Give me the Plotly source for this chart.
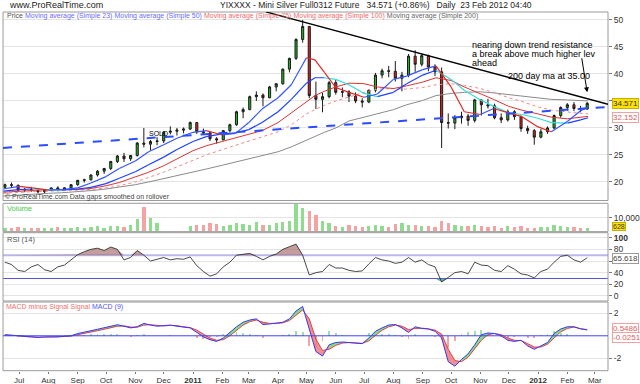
import plotly.graph_objects as go
import pandas as pd

W, H = 640, 384
def px(x): return x / W
def py(y): return 1 - y / H

FONT = "Liberation Sans, Arial, sans-serif"

# ---------------- data (weekly candles) ----------------
week_start = "2010-06-16"
week_open = [19.0, 19.5, 19.4, 18.5, 18.6, 18.4, 18.2, 18.5, 18.9, 18.7,
             18.9, 19.5, 20.3, 20.4, 21.3, 22.0, 22.5, 23.8, 24.8, 24.3,
             24.9, 27.2, 27.0, 27.5, 27.6, 29.2, 29.4, 29.6, 29.8, 31.0,
             29.3, 29.1, 28.0, 27.8, 29.5, 30.6, 33.0, 33.4, 35.8, 36.1,
             35.6, 37.6, 38.2, 40.9, 42.9, 46.4, 48.8, 36.0, 35.3, 35.8,
             38.4, 36.6, 36.7, 35.9, 35.0, 34.8, 37.0, 39.8, 40.6, 40.5,
             39.2, 39.8, 43.3, 41.8, 43.4, 41.3, 40.4, 31.0, 30.9, 31.9,
             32.2, 31.4, 35.2, 34.3, 34.1, 31.9, 31.5, 33.0, 32.1, 29.9,
             29.5, 28.3, 29.3, 30.0, 32.3, 33.8, 34.3, 33.6, 33.5]
week_high = [19.7, 19.9, 19.5, 18.9, 19.1, 18.8, 18.6, 19.0, 19.2, 19.0,
             19.6, 20.4, 20.6, 21.4, 22.2, 22.6, 23.9, 25.0, 25.4, 25.0,
             27.4, 30.0, 27.8, 28.3, 29.4, 30.3, 30.0, 30.1, 31.2, 31.1,
             29.9, 29.2, 28.3, 29.6, 30.8, 33.2, 33.8, 36.0, 36.8, 36.4,
             37.8, 38.3, 41.0, 43.0, 46.6, 50.0, 48.9, 38.6, 36.5, 38.7,
             38.9, 37.5, 37.0, 36.6, 35.5, 37.1, 40.2, 41.0, 41.5, 42.4,
             40.4, 43.7, 44.4, 43.8, 43.6, 41.8, 41.2, 32.7, 32.4, 33.0,
             32.6, 35.4, 35.3, 35.4, 34.5, 32.7, 33.4, 33.3, 32.3, 30.4,
             29.8, 29.8, 30.3, 32.5, 34.0, 34.6, 34.8, 34.1, 34.8]
week_low = [18.8, 18.9, 18.3, 18.1, 18.2, 17.9, 17.9, 18.4, 18.3, 18.5,
            18.8, 19.3, 19.9, 20.3, 21.0, 21.5, 22.2, 23.5, 23.7, 23.9,
            24.7, 26.4, 25.9, 26.8, 27.2, 28.8, 28.6, 29.0, 29.6, 28.9,
            28.8, 27.6, 27.1, 27.7, 29.2, 30.4, 31.8, 33.3, 35.0, 34.0,
            35.5, 36.8, 38.0, 40.3, 42.6, 45.8, 35.5, 33.5, 32.9, 35.5,
            36.2, 35.7, 34.8, 34.6, 33.8, 34.6, 36.6, 39.2, 39.4, 38.6,
            36.8, 39.4, 40.4, 41.4, 40.5, 39.6, 26.3, 29.9, 29.8, 30.8,
            30.4, 31.0, 32.3, 33.6, 31.6, 30.9, 31.2, 31.5, 29.3, 28.9,
            26.9, 28.1, 28.9, 29.8, 31.9, 33.2, 33.1, 32.9, 33.4]
week_close = [19.5, 19.4, 18.5, 18.6, 18.4, 18.2, 18.5, 18.9, 18.7, 18.9,
              19.5, 20.3, 20.4, 21.3, 22.0, 22.5, 23.8, 24.8, 24.3, 24.9,
              27.2, 27.0, 27.5, 27.6, 29.2, 29.4, 29.6, 29.8, 31.0, 29.3,
              29.1, 28.0, 27.8, 29.5, 30.6, 33.0, 33.4, 35.8, 36.1, 35.6,
              37.6, 38.2, 40.9, 42.9, 46.4, 48.8, 36.0, 35.3, 35.8, 38.4,
              36.6, 36.7, 35.9, 35.0, 34.8, 37.0, 39.8, 40.6, 40.5, 39.2,
              39.8, 43.3, 41.8, 43.4, 41.3, 40.4, 31.0, 30.9, 31.9, 32.2,
              31.4, 35.2, 34.3, 34.1, 31.9, 31.5, 33.0, 32.1, 29.9, 29.5,
              28.3, 29.3, 30.0, 32.3, 33.8, 34.3, 33.6, 33.5, 34.571]
week_volume = [3000, 2500, 3500, 2800, 2600, 3000, 2400, 2800, 3200, 2500,
               3000, 3500, 2700, 3300, 3800, 3000, 4000, 4200, 3500, 4500,
               9000, 18000, 10000, 6000, None, None, None, None, 4000, 5000,
               4500, 6000, 5500, 4000, 5000, 6500, 5500, 4500, 7000, 5000,
               4500, 6000, 7000, 8000, 20000, 17000, 15000, 12000, 8000, 6000,
               4000, 3500, 4500, 3800, 3200, 4200, 5000, 4000, 3600, 5500,
               6000, 5000, 4500, 3800, 4200, 3500, 8000, 6500, 5000, 4000,
               3800, 4500, 4000, 3500, 4200, 3000, 3800, 3500, 4000, 3000,
               2800, 3200, 3500, 4500, 4000, 3500, 3200, 3000, 2800]
rsi14 = [58, 54, 44, 42, 50, 54, 45, 42, 50, 53,
         62, 71, 76, 80, 82, 78, 84, 80, 62, 66,
         78, 70, 60, 63, 66, 62, 64, 63, 67, 52,
         42, 34, 38, 50, 58, 70, 72, 73, 68, 62,
         68, 72, 80, 84, 89, 70, 36, 40, 42, 54,
         48, 48, 44, 42, 43, 55, 66, 62, 60, 56,
         58, 66, 58, 62, 54, 50, 24, 32, 40, 42,
         38, 58, 53, 52, 44, 42, 52, 46, 38, 36,
         31, 42, 46, 58, 68, 70, 62, 58, 65.618]
macd_line = [0.1, 0.05, -0.05, -0.1, -0.15, -0.15, -0.1, -0.12, -0.1, -0.05,
             0.0, 0.2, 0.3, 0.45, 0.58, 0.7, 0.85, 0.98, 0.85, 0.7,
             0.8, 1.1, 0.95, 0.85, 0.9, 0.95, 0.85, 0.75, 0.7, 0.3,
             -0.1, -0.35, -0.5, -0.2, 0.3, 0.8, 1.2, 1.4, 1.5, 1.0,
             1.05, 1.1, 1.2, 1.5, 2.2, 2.6, 0.6, -1.4, -1.8, -0.8,
             -0.6, -0.55, -0.6, -0.65, -0.7, -0.2, 0.4, 0.7, 0.95, 1.0,
             0.7, 0.3, 0.8, 0.65, 0.6, 0.4, -0.2, -2.3, -2.7, -2.1,
             -1.6, -0.8, 0.1, 0.25, 0.2, 0.0, -0.4, -0.5, -0.4, -0.9,
             -1.2, -0.9, -0.6, 0.2, 0.6, 0.8, 0.8, 0.62, 0.52]
signal_line = [0.05, 0.05, 0.02, -0.05, -0.1, -0.12, -0.12, -0.11, -0.1, -0.08,
               -0.03, 0.1, 0.2, 0.33, 0.45, 0.58, 0.72, 0.85, 0.88, 0.78,
               0.76, 0.95, 0.98, 0.9, 0.88, 0.92, 0.9, 0.8, 0.73, 0.5,
               0.15, -0.2, -0.4, -0.35, 0.0, 0.5, 0.95, 1.25, 1.4, 1.2,
               1.1, 1.1, 1.15, 1.35, 1.8, 2.3, 1.5, -0.3, -1.3, -1.2,
               -0.85, -0.65, -0.6, -0.62, -0.67, -0.45, 0.05, 0.5, 0.8, 0.95,
               0.85, 0.55, 0.65, 0.68, 0.62, 0.5, 0.15, -1.2, -2.2, -2.3,
               -1.9, -1.2, -0.4, 0.1, 0.2, 0.1, -0.2, -0.4, -0.42, -0.7,
               -1.0, -1.0, -0.75, -0.2, 0.35, 0.65, 0.78, 0.62, 0.55]

# moving averages read as sparse points
ma_dates = ["2010-06-14", "2010-07-01", "2010-07-15", "2010-08-01", "2010-08-15",
            "2010-09-01", "2010-09-15", "2010-10-01", "2010-10-15", "2010-11-01",
            "2010-11-15", "2010-12-01", "2010-12-15", "2011-01-01", "2011-01-15",
            "2011-02-01", "2011-02-15", "2011-03-01", "2011-03-15", "2011-04-01",
            "2011-04-15", "2011-05-01", "2011-05-10", "2011-05-20", "2011-06-01",
            "2011-06-15", "2011-07-01", "2011-07-15", "2011-08-01", "2011-08-15",
            "2011-09-01", "2011-09-15", "2011-10-01", "2011-10-15", "2011-11-01",
            "2011-11-15", "2011-12-01", "2011-12-15", "2012-01-01", "2012-01-15",
            "2012-02-01", "2012-02-15", "2012-02-23"]
ma23 = [18.7, 19.2, 18.9, 18.5, 18.6, 18.9, 19.8, 21.0, 22.5, 23.9,
        25.6, 26.9, 28.1, 29.2, 29.5, 28.7, 29.0, 31.0, 33.5, 35.6,
        38.0, 43.0, 42.6, 40.3, 37.5, 36.6, 35.7, 36.3, 39.0, 39.6,
        40.8, 41.5, 37.6, 33.0, 32.5, 33.6, 32.8, 32.1, 30.2, 29.3,
        31.2, 33.2, 33.8]
ma50 = [18.3, 18.6, 18.7, 18.6, 18.5, 18.7, 19.0, 19.7, 20.7, 21.9,
        23.2, 24.6, 26.0, 27.5, 28.4, 28.9, 29.1, 29.7, 31.0, 33.0,
        35.3, 38.3, 39.3, 39.3, 39.0, 38.0, 36.4, 35.8, 36.6, 38.2,
        39.8, 40.7, 39.0, 37.0, 35.2, 34.0, 32.8, 32.5, 31.8, 31.0,
        30.9, 31.5, 31.9]
ma75 = [18.1, 18.3, 18.5, 18.6, 18.6, 18.6, 18.8, 19.3, 19.9, 20.9,
        21.8, 23.0, 24.3, 25.8, 26.7, 27.5, 28.2, 28.8, 29.5, 31.0,
        32.8, 35.0, 36.0, 36.8, 37.6, 38.3, 38.2, 37.6, 37.3, 37.8,
        38.5, 39.3, 38.8, 37.6, 36.4, 35.3, 34.0, 33.3, 32.6, 32.0,
        31.7, 32.0, 32.152]
ma100 = [17.9, 18.1, 18.2, 18.3, 18.4, 18.5, 18.6, 18.9, 19.3, 20.0,
         20.8, 21.8, 22.8, 24.0, 25.0, 26.0, 26.8, 27.6, 28.3, 29.3,
         30.6, 32.6, 33.4, 34.2, 35.0, 35.8, 36.6, 37.2, 37.3, 37.2,
         37.5, 38.0, 38.2, 37.9, 37.3, 36.6, 35.6, 34.9, 33.9, 33.3,
         32.9, 32.7, 32.6]
ma200 = [17.4, 17.6, 17.8, 17.9, 18.0, 18.2, 18.4, 18.7, 19.0, 19.5,
         20.0, 20.6, 21.2, 21.8, 22.4, 23.1, 23.7, 24.2, 24.8, 25.6,
         26.5, 27.8, 28.5, 29.2, 30.0, 31.3, 32.0, 32.6, 33.4, 34.3,
         35.1, 36.0, 36.4, 36.6, 36.7, 36.5, 36.2, 35.9, 35.5, 35.3,
         35.2, 35.1, 35.0]

month_ticks = ["2010-07-01", "2010-08-01", "2010-09-01", "2010-10-01", "2010-11-01",
               "2010-12-01", "2011-01-01", "2011-02-01", "2011-03-01", "2011-04-01",
               "2011-05-01", "2011-06-01", "2011-07-01", "2011-08-01", "2011-09-01",
               "2011-10-01", "2011-11-01", "2011-12-01", "2012-01-01", "2012-02-01",
               "2012-03-01"]
month_labels = ["Jul", "Aug", "Sep", "Oct", "Nov", "Dec", "2011", "Feb", "Mar", "Apr",
                "May", "Jun", "Jul", "Aug", "Sep", "Oct", "Nov", "Dec", "2012", "Feb", "Mar"]

x_range = ["2010-06-14", "2012-03-15"]

n = len(week_close)
for arr in (week_open, week_high, week_low, week_volume, rsi14, macd_line, signal_line):
    assert len(arr) == n, len(arr)
for arr in (ma23, ma50, ma75, ma100, ma200):
    assert len(arr) == len(ma_dates), len(arr)

dates = [d.strftime("%Y-%m-%d") for d in pd.date_range(week_start, periods=n, freq="7D")]

fig = go.Figure()

# ---------------- price panel ----------------
fig.add_trace(go.Scatter(x=ma_dates, y=ma200, mode="lines", line=dict(color="#8a8a8a", width=1),
                         hoverinfo="skip", xaxis="x", yaxis="y"))
fig.add_trace(go.Scatter(x=ma_dates, y=ma100, mode="lines", line=dict(color="#ee8888", width=1, dash="dot"),
                         hoverinfo="skip", xaxis="x", yaxis="y"))
fig.add_trace(go.Scatter(x=ma_dates, y=ma75, mode="lines", line=dict(color="#dd3333", width=1),
                         hoverinfo="skip", xaxis="x", yaxis="y"))


def slope_split(xs, ys):
    ux, uy, dx, dy = [], [], [], []
    for i in range(len(xs) - 1):
        if ys[i + 1] >= ys[i]:
            ux += [xs[i], xs[i + 1], None]
            uy += [ys[i], ys[i + 1], None]
        else:
            dx += [xs[i], xs[i + 1], None]
            dy += [ys[i], ys[i + 1], None]
    return ux, uy, dx, dy


for vals, up_col, dn_col in ((ma50, "#2040ff", "#33dddd"), (ma23, "#3355ff", "#e02828")):
    ux, uy, dx, dy = slope_split(ma_dates, vals)
    fig.add_trace(go.Scatter(x=ux, y=uy, mode="lines", line=dict(color=up_col, width=1.2),
                             hoverinfo="skip", xaxis="x", yaxis="y"))
    fig.add_trace(go.Scatter(x=dx, y=dy, mode="lines", line=dict(color=dn_col, width=1.2),
                             hoverinfo="skip", xaxis="x", yaxis="y"))

fig.add_trace(go.Candlestick(
    x=dates, open=week_open, high=week_high, low=week_low, close=week_close,
    increasing=dict(fillcolor="#22b522", line=dict(color="#1a1a1a", width=1)),
    decreasing=dict(fillcolor="#e22222", line=dict(color="#1a1a1a", width=1)),
    whiskerwidth=0, hoverinfo="skip", xaxis="x", yaxis="y"))

# ---------------- volume panel ----------------
vol_colors = ["#8fdc8f" if c >= o else "#f2a3a3" for o, c in zip(week_open, week_close)]
fig.add_trace(go.Bar(x=dates, y=week_volume, marker=dict(color=vol_colors, line=dict(width=0)),
                     width=3.5 * 86400000, hoverinfo="skip", xaxis="x", yaxis="y2"))

# ---------------- RSI panel ----------------
over = [max(v, 70) for v in rsi14]
under = [min(v, 30) for v in rsi14]
fig.add_trace(go.Scatter(x=dates, y=[70] * n, mode="lines", line=dict(width=0), hoverinfo="skip",
                         xaxis="x", yaxis="y3"))
fig.add_trace(go.Scatter(x=dates, y=over, mode="lines", line=dict(width=0), fill="tonexty",
                         fillcolor="rgba(165,105,105,0.65)", hoverinfo="skip", xaxis="x", yaxis="y3"))
fig.add_trace(go.Scatter(x=dates, y=[30] * n, mode="lines", line=dict(width=0), hoverinfo="skip",
                         xaxis="x", yaxis="y3"))
fig.add_trace(go.Scatter(x=dates, y=under, mode="lines", line=dict(width=0), fill="tonexty",
                         fillcolor="rgba(60,150,130,0.75)", hoverinfo="skip", xaxis="x", yaxis="y3"))
fig.add_trace(go.Scatter(x=dates, y=rsi14, mode="lines", line=dict(color="#333333", width=0.9),
                         hoverinfo="skip", xaxis="x", yaxis="y3"))

# ---------------- MACD panel ----------------
hist = [m - s for m, s in zip(macd_line, signal_line)]
fig.add_trace(go.Bar(x=dates, y=hist, width=2 * 86400000,
                     marker=dict(color=["#9fe29f" if h >= 0 else "#f3a5a5" for h in hist], line=dict(width=0)),
                     hoverinfo="skip", xaxis="x", yaxis="y4"))
gx, gy, rx, ry = [], [], [], []
for i in range(n - 1):
    d = (macd_line[i] - signal_line[i]) + (macd_line[i + 1] - signal_line[i + 1])
    polx = [dates[i], dates[i + 1], dates[i + 1], dates[i], dates[i], None]
    poly = [macd_line[i], macd_line[i + 1], signal_line[i + 1], signal_line[i], macd_line[i], None]
    if d >= 0:
        gx += polx; gy += poly
    else:
        rx += polx; ry += poly
fig.add_trace(go.Scatter(x=gx, y=gy, mode="lines", line=dict(width=0), fill="toself",
                         fillcolor="rgba(110,215,110,0.85)", hoverinfo="skip", xaxis="x", yaxis="y4"))
fig.add_trace(go.Scatter(x=rx, y=ry, mode="lines", line=dict(width=0), fill="toself",
                         fillcolor="rgba(240,125,125,0.85)", hoverinfo="skip", xaxis="x", yaxis="y4"))
fig.add_trace(go.Scatter(x=dates, y=signal_line, mode="lines", line=dict(color="#dd4444", width=1),
                         hoverinfo="skip", xaxis="x", yaxis="y4"))
fig.add_trace(go.Scatter(x=dates, y=macd_line, mode="lines", line=dict(color="#3535ff", width=1),
                         hoverinfo="skip", xaxis="x", yaxis="y4"))

# ---------------- layout ----------------
main_dom = [py(200.5), py(12)]
vol_dom = [py(231.7), py(203.3)]
rsi_dom = [py(301), py(232.7)]
macd_dom = [py(370.7), py(302)]

tick_font = dict(family=FONT, size=8.5, color="#333333")
yax_common = dict(side="right", anchor="x", ticks="outside", ticklen=3, tickcolor="#777777",
                  tickfont=tick_font, showline=False, zeroline=False, gridcolor="#e4e4e4",
                  gridwidth=1, fixedrange=True)

ticktext = [("<b>%s</b>" % t if t.isdigit() else t) for t in month_labels]

fig.update_layout(
    width=W, height=H, margin=dict(l=0, r=0, t=0, b=0),
    paper_bgcolor="white", plot_bgcolor="white", showlegend=False,
    font=dict(family=FONT, color="#333333"),
    bargap=0, boxgap=0.55,
    xaxis=dict(domain=[px(3), px(608)], range=x_range, type="date", anchor="y4",
               tickvals=month_ticks, ticktext=ticktext, tickfont=dict(family=FONT, size=8, color="#333"),
               ticks="outside", ticklen=2, tickcolor="#777", showgrid=False, zeroline=False,
               showline=False, rangeslider=dict(visible=False)),
    yaxis=dict(domain=main_dom, range=[16.57, 51.48], tickvals=[20, 25, 30, 35, 40, 45, 50],
               ticktext=["20", "25", "30", "", "40", "45", "50"], **yax_common),
    yaxis2=dict(domain=vol_dom, range=[0, 20300], tickvals=[10000], ticktext=["10,000"], **yax_common),
    yaxis3=dict(domain=rsi_dom, range=[-8.6, 108.6], tickvals=[0, 20, 40, 60, 80, 100],
                ticktext=["0", "20", "40", "", "80", "<b>100</b>"], **yax_common),
    yaxis4=dict(domain=macd_dom, range=[-3.1, 3.0], tickvals=[-2, 2], ticktext=["-2", "2"], **yax_common),
)

shapes = []
# panel borders
for top, bot in ((12, 200.5), (203.3, 231.7), (232.7, 301), (302, 370.7)):
    shapes.append(dict(type="rect", xref="paper", yref="paper", x0=px(3), x1=px(608), y0=py(bot), y1=py(top),
                       line=dict(color="#9a9a9a", width=1), layer="above"))
shapes.append(dict(type="rect", xref="paper", yref="paper", x0=px(3), x1=px(608), y0=py(233), y1=py(231),
                   fillcolor="#a8a8a8", line=dict(width=0), layer="above"))
# RSI 70/30 and MACD zero
shapes.append(dict(type="line", xref="paper", yref="y3", x0=px(3), x1=px(608), y0=70, y1=70,
                   line=dict(color="#b8b8ee", width=2), layer="below"))
shapes.append(dict(type="line", xref="paper", yref="y3", x0=px(3), x1=px(608), y0=30, y1=30,
                   line=dict(color="#5555dd", width=1), layer="below"))
shapes.append(dict(type="line", xref="paper", yref="y4", x0=px(3), x1=px(608), y0=0, y1=0,
                   line=dict(color="#4444ee", width=1), layer="above"))
# drawn trend lines
shapes.append(dict(type="line", xref="x", yref="y", x0="2010-06-14", y0=26.3, x1="2012-03-15", y1=33.9,
                   line=dict(color="#2b4cff", width=2, dash="dash"), layer="above"))
shapes.append(dict(type="line", xref="x", yref="y", x0="2011-03-19", y0=51.5, x1="2012-03-15", y1=34.4,
                   line=dict(color="#000000", width=1.4), layer="above"))
fig.update_layout(shapes=shapes)

ann = []
def txt(x, y, s, size=7, color="#333333", xanchor="left", **kw):
    ann.append(dict(xref="paper", yref="paper", x=px(x), y=py(y), text=s, showarrow=False,
                    xanchor=xanchor, yanchor="middle", font=dict(family=FONT, size=size, color=color), **kw))

NB = "\u00a0"
txt(7, 5.5, "www.ProRealTime.com", size=9, color="#222222")
txt(218, 5.5, "YIXXXX - Mini Silver Full0312 Future" + NB * 3 + "34.571 (+0.86%)" + NB * 3 +
    "Daily" + NB * 2 + "23 Feb 2012 04:40", size=8.5, color="#222222")
txt(5, 16, "<span style='color:#555555'>Price</span> "
           "<span style='color:#6b6bff'>Moving average (Simple 23)</span> "
           "<span style='color:#6b6bff'>Moving average (Simple 50)</span> "
           "<span style='color:#f06a6a'>Moving average (Simple 75)</span> "
           "<span style='color:#f06a6a'>Moving average (Simple 100)</span> "
           "<span style='color:#666666'>Moving average (Simple 200)</span>", size=7)
txt(3, 196.5, "© ProRealTime.com Data gaps smoothed on rollover", size=7, color="#444444")
txt(5, 208, "Volume", size=7.5, color="#44cc44")
txt(5, 239, "RSI (14)", size=7.5, color="#555555")
txt(4, 306.5, "<span style='color:#f07070'>MACD minus Signal</span> "
              "<span style='color:#f07070'>Signal</span> "
              "<span style='color:#5555ff'>MACD (9)</span>", size=7)

# chart comments
txt(470, 45, "nearing down trend resistance", size=9, color="#000000")
txt(470, 54, "a break above much higher lev", size=9, color="#000000")
txt(470, 63, "ahead", size=9, color="#000000")
txt(506, 76, "200 day ma at 35.00", size=9, color="#000000")
txt(147, 133, "SOLD", size=7, color="#000000")
ann.append(dict(xref="x", yref="y", x="2012-02-22", y=36.6, axref="x", ayref="y",
                ax="2012-02-16", ay=43.2, text="", showarrow=True, arrowhead=2, arrowsize=1,
                arrowwidth=1, arrowcolor="#000000"))

# value tags on the right axis
def tag(y, s, bg, border, color="#333333", size=8):
    ann.append(dict(xref="paper", yref="paper", x=px(612), y=py(y), text=s, showarrow=False,
                    xanchor="left", yanchor="middle", bgcolor=bg, bordercolor=border, borderwidth=1,
                    borderpad=0, font=dict(family=FONT, size=size, color=color)))

tag(103.3, "34.571", "#ffe100", "#c8b000", "#333333")
tag(117, "32.152", "#ffffff", "#f2a0a0", "#e06060")
tag(226.5, "628", "#ffe100", "#c8b000", "#333333", size=7)
tag(258, "65.618", "#ffffff", "#9a9a9a", "#444444")
tag(328, "0.5486", "#ffffff", "#f2a0a0", "#e06060")
tag(337, "-0.0251", "#ffffff", "#f2a0a0", "#e06060")

fig.update_layout(annotations=ann)
fig.write_html("out.html", config={"displayModeBar": False, "staticPlot": True},
               post_script="document.body.style.margin='0px';document.body.style.padding='0px';"
                           "document.body.style.overflow='hidden';")
